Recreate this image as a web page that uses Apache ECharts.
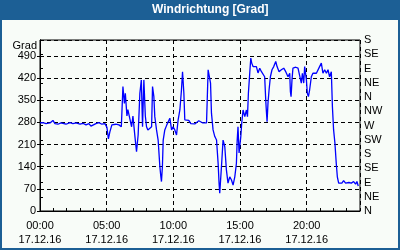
<!DOCTYPE html>
<html>
<head>
<meta charset="utf-8">
<script src="https://cdn.jsdelivr.net/npm/echarts@6/dist/echarts.min.js"></script>
<style>html,body{margin:0;padding:0;background:#f8fcf8;}#c{width:400px;height:250px;}</style>
</head>
<body>
<div id="c"></div>
<script>
const titleText = 'Windrichtung [Grad]';
const yName = 'Grad';
const hourLabels = ['00:00', '05:00', '10:00', '15:00', '20:00'];
const dateLabel = '17.12.16';
const directionLabels = ['N', 'NE', 'E', 'SE', 'S', 'SW', 'W', 'NW', 'N', 'NE', 'E', 'SE', 'S'];
// time in hours of 17.12.16
const hours = [
  0.0, 0.22, 0.45, 0.75, 0.97, 1.12, 1.35, 1.57, 1.72, 1.95, 2.25, 2.47, 2.70, 3.0, 3.22, 3.45, 3.67, 3.82, 3.97, 4.19,
  4.42, 4.64, 4.87, 5.02, 5.13, 5.24, 5.39, 5.69, 5.92, 6.10, 6.22, 6.33, 6.40, 6.52, 6.59, 6.74, 6.87, 6.97, 7.12, 7.24,
  7.36, 7.49, 7.60, 7.69, 7.79, 7.90, 7.99, 8.09, 8.24, 8.37, 8.44, 8.54, 8.61, 8.74, 8.86, 8.99, 9.06, 9.11, 9.18, 9.24,
  9.36, 9.51, 9.63, 9.74, 9.87, 9.98, 10.11, 10.24, 10.36, 10.49, 10.61, 10.69, 10.79, 10.86, 10.99, 11.16, 11.31, 11.46, 11.61, 11.76,
  11.91, 12.06, 12.21, 12.49, 12.61, 12.73, 12.79, 12.86, 12.98, 13.11, 13.24, 13.36, 13.43, 13.48, 13.53, 13.61, 13.73, 13.86, 13.98, 14.10,
  14.23, 14.36, 14.48, 14.61, 14.73, 14.79, 14.85, 14.93, 15.06, 15.13, 15.23, 15.36, 15.48, 15.56, 15.63, 15.73, 15.81, 15.88, 15.98, 16.10,
  16.23, 16.35, 16.48, 16.61, 16.73, 16.85, 16.93, 16.98, 17.03, 17.10, 17.18, 17.28, 17.40, 17.53, 17.68, 17.78, 17.93, 18.10, 18.28, 18.43,
  18.60, 18.73, 18.78, 18.83, 18.90, 18.97, 19.18, 19.35, 19.48, 19.60, 19.68, 19.78, 19.85, 19.98, 20.05, 20.13, 20.22, 20.35, 20.47, 20.73,
  20.85, 20.97, 21.10, 21.22, 21.35, 21.48, 21.60, 21.72, 21.85, 21.93, 22.02, 22.12, 22.22, 22.30, 22.40, 22.52, 22.64, 22.77, 22.92, 23.02,
  23.17, 23.35, 23.52, 23.67, 23.77, 23.87
];
// wind direction in degrees
const direction = [
  278, 279, 276, 278, 286, 276, 274, 278, 281, 274, 279, 276, 278, 274, 277, 272, 276, 268, 266, 276,
  279, 274, 276, 264, 228, 250, 272, 274, 272, 266, 393, 340, 372, 300, 320, 319, 266, 300, 235, 187,
  240, 372, 414, 266, 414, 300, 266, 256, 250, 266, 393, 361, 298, 256, 224, 140, 110, 93, 140, 224,
  256, 272, 276, 293, 256, 266, 256, 240, 288, 319, 382, 440, 372, 288, 293, 286, 276, 282, 275, 280,
  285, 279, 278, 278, 446, 446, 404, 309, 256, 235, 224, 150, 88, 56, 88, 140, 224, 203, 130, 88,
  108, 98, 82, 108, 150, 224, 266, 183, 235, 278, 319, 298, 319, 298, 372, 435, 483, 467, 456, 461,
  456, 436, 451, 440, 440, 424, 351, 314, 282, 341, 382, 424, 446, 456, 472, 456, 440, 446, 451, 440,
  424, 435, 377, 361, 414, 451, 454, 451, 456, 404, 435, 404, 456, 414, 372, 361, 382, 424, 435, 435,
  440, 456, 467, 435, 446, 435, 446, 424, 440, 330, 256, 214, 150, 108, 88, 93, 88, 96, 88, 82,
  90, 88, 93, 85, 93, 79
];

const frameBlue = '#1c5f95';
const font = 'Liberation Sans';
const chart = echarts.init(document.getElementById('c'), null, {renderer: 'canvas'});
chart.setOption({
  backgroundColor: '#f8fcf8',
  animation: false,
  title: {
    text: titleText, left: 152, top: 4, padding: 0,
    textStyle: {color: '#ffffff', fontFamily: font, fontWeight: 'bold', fontSize: 12}
  },
  graphic: [
    {type: 'rect', z: -1, shape: {x: 0, y: 0, width: 400, height: 20}, style: {fill: frameBlue}},
    {type: 'rect', z: -1, shape: {x: 0, y: 0, width: 400, height: 250}, style: {fill: null, stroke: frameBlue, lineWidth: 4}},
    {type: 'text', x: 37, y: 46, style: {text: yName, fill: '#000', font: '11px "Liberation Sans"', textAlign: 'right', textVerticalAlign: 'middle'}}
  ],
  grid: {left: 40, right: 40, top: 40, bottom: 39, show: true, borderColor: '#000', borderWidth: 1, backgroundColor: 'transparent'},
  xAxis: [
    {
      type: 'value', min: 0, max: 24, interval: 5, position: 'bottom',
      axisLine: {show: true, lineStyle: {color: '#000', width: 1}},
      axisTick: {show: false},
      axisLabel: {
        color: '#000', fontFamily: font, fontSize: 11, margin: 8, lineHeight: 14, showMaxLabel: false,
        formatter: v => hourLabels[Math.round(v / 5)] + '\n' + dateLabel
      },
      splitLine: {show: true, lineStyle: {color: '#000', type: [4, 3], width: 1}}
    },
    {
      type: 'value', min: 0, max: 24, interval: 1, position: 'bottom',
      axisLine: {show: false},
      axisTick: {show: true, inside: true, length: 3, lineStyle: {color: '#000'}},
      axisLabel: {show: false},
      splitLine: {show: false}
    }
  ],
  yAxis: [
    {
      type: 'value', min: 0, max: 540, interval: 70, position: 'left',
      axisLine: {show: true, lineStyle: {color: '#000'}},
      axisTick: {show: true, length: 3, lineStyle: {color: '#000'}},
      axisLabel: {color: '#000', fontFamily: font, fontSize: 11, margin: 4, showMaxLabel: false},
      splitLine: {show: true, lineStyle: {color: '#000', type: [4, 3], width: 1}}
    },
    {
      type: 'value', min: 0, max: 540, interval: 45, position: 'right',
      axisLine: {show: true, lineStyle: {color: '#000'}},
      axisTick: {show: true, length: 3, lineStyle: {color: '#000'}},
      axisLabel: {
        color: '#000', fontFamily: font, fontSize: 11, margin: 4,
        formatter: v => directionLabels[Math.round(v / 45)]
      },
      splitLine: {show: false}
    }
  ],
  series: [{
    type: 'line', xAxisIndex: 0, yAxisIndex: 0,
    data: hours.map((h, i) => [h, direction[i]]),
    showSymbol: false, symbol: 'none',
    lineStyle: {color: '#0000ff', width: 1.3},
    itemStyle: {color: '#0000ff'}
  }]
});
</script>
</body>
</html>
